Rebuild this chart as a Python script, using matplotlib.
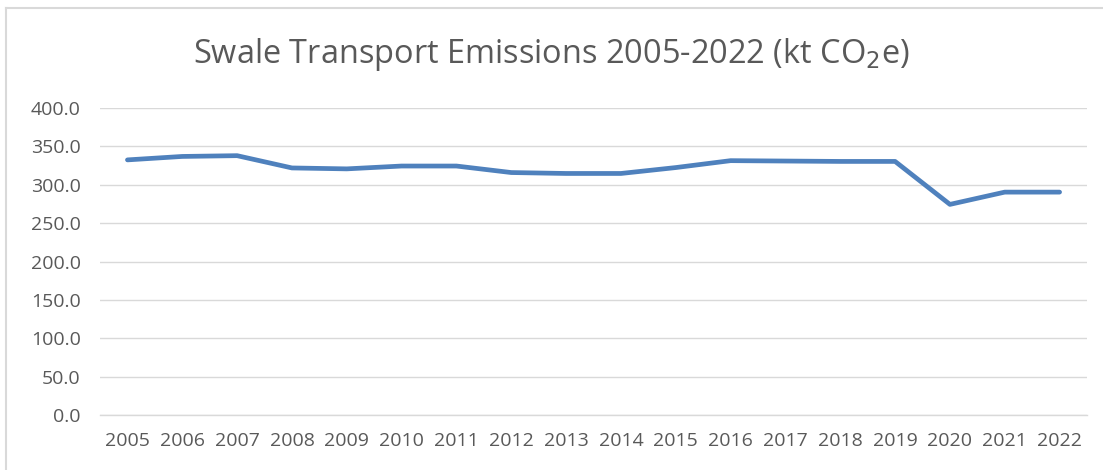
import matplotlib
matplotlib.use('Agg')
import matplotlib.pyplot as plt
from matplotlib.lines import Line2D

# Data
years = ['2005', '2006', '2007', '2008', '2009', '2010', '2011', '2012', '2013',
         '2014', '2015', '2016', '2017', '2018', '2019', '2020', '2021', '2022']
emissions = [332.5, 337.0, 338.0, 322.0, 320.8, 324.5, 324.5, 316.0, 314.8,
             314.8, 322.5, 331.5, 331.0, 330.5, 330.5, 274.5, 290.5, 290.5]
yticks = [0, 50, 100, 150, 200, 250, 300, 350, 400]

plt.rcParams['font.family'] = ['Open Sans', 'DejaVu Sans']

fig = plt.figure(figsize=(11.03, 4.70), dpi=100)
fig.patch.set_facecolor('white')
ax = fig.add_axes([0.0907, 0.117, 0.8948, 0.653])

x = list(range(len(years)))
ax.plot(x, emissions, color='#4f81bd', linewidth=3.4, solid_capstyle='round',
        solid_joinstyle='round', zorder=3)

ax.set_xlim(-0.5, len(years) - 0.5)
ax.set_ylim(0, 400)
ax.set_yticks(yticks)
ax.set_yticklabels([f'{v:.1f}' for v in yticks])
ax.set_xticks(x)
ax.set_xticklabels(years)

ax.grid(axis='y', color='#d9d9d9', linewidth=1.0)
ax.set_axisbelow(True)
for s in ['top', 'right', 'left']:
    ax.spines[s].set_visible(False)
ax.spines['bottom'].set_color('#d9d9d9')
ax.spines['bottom'].set_linewidth(1.0)
ax.tick_params(axis='both', length=0, labelsize=14, colors='#595959')
ax.tick_params(axis='y', pad=14)
ax.tick_params(axis='x', pad=12)

fig.text(0.5, 0.883, 'Swale Transport Emissions 2005-2022 (kt CO$_2$e)',
         ha='center', va='center', fontsize=23.4, color='#595959')

# chart border (left and top edges visible)
fig.add_artist(Line2D([0.0054, 0.0054], [0.983, 0.0], color='#d9d9d9',
                      linewidth=1.5, transform=fig.transFigure))
fig.add_artist(Line2D([0.0054, 1.0], [0.983, 0.983], color='#d9d9d9',
                      linewidth=1.5, transform=fig.transFigure))

plt.savefig('out.png', dpi=100, facecolor='white')
